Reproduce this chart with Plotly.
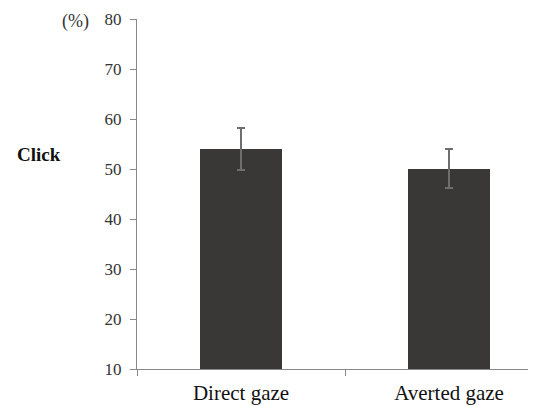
import plotly.graph_objects as go

categories = ["Direct gaze", "Averted gaze"]
values = [54.0, 50.1]
errors = [4.2, 3.9]
y_ticks = [10, 20, 30, 40, 50, 60, 70, 80]

x_pos = list(range(len(categories)))

fig = go.Figure()
fig.add_trace(go.Bar(
    x=x_pos, y=values, width=0.395,
    marker=dict(color="#3a3836", line=dict(width=0)),
    error_y=dict(type="data", array=errors, visible=True, color="#6e6e6e",
                 thickness=1.3, width=4),
    showlegend=False,
))

fig.update_layout(
    width=528, height=398,
    margin=dict(l=129, r=0, t=11, b=37),
    plot_bgcolor="white", paper_bgcolor="white",
    font=dict(family="Liberation Serif", color="#222"),
    bargap=0,
    xaxis=dict(
        range=[-0.5, 1.418],
        tickmode="array", tickvals=x_pos, ticktext=categories,
        ticks="", showgrid=False, zeroline=False,
        showline=True, linecolor="#888", linewidth=1.3,
        tickfont=dict(size=21, family="Liberation Serif", color="#111"),
        ticklabelstandoff=5,
        automargin=False,
        minor=dict(tickmode="array", tickvals=[-0.5, 0.5], ticks="outside",
                   ticklen=6, tickcolor="#888", tickwidth=1.3),
    ),
    yaxis=dict(
        range=[10, 80], tickmode="array", tickvals=y_ticks,
        ticks="outside", ticklen=6, tickcolor="#888", tickwidth=1.3,
        showline=True, linecolor="#888", linewidth=1.3,
        showgrid=False, zeroline=False,
        tickfont=dict(size=17, family="Liberation Serif", color="#333"),
        ticklabelstandoff=5,
        automargin=False,
    ),
)

fig.add_annotation(text="<b>Click</b>", xref="paper", yref="paper",
                   x=-0.2456, y=0.613, xanchor="center", yanchor="middle",
                   showarrow=False, font=dict(size=19, family="Liberation Serif", color="#111"))
fig.add_annotation(text="(%)", xref="paper", yref="paper",
                   x=-0.1165, y=0.993, xanchor="right", yanchor="middle",
                   showarrow=False, font=dict(size=18, family="Liberation Serif", color="#333"))

fig.write_html("out.html")
